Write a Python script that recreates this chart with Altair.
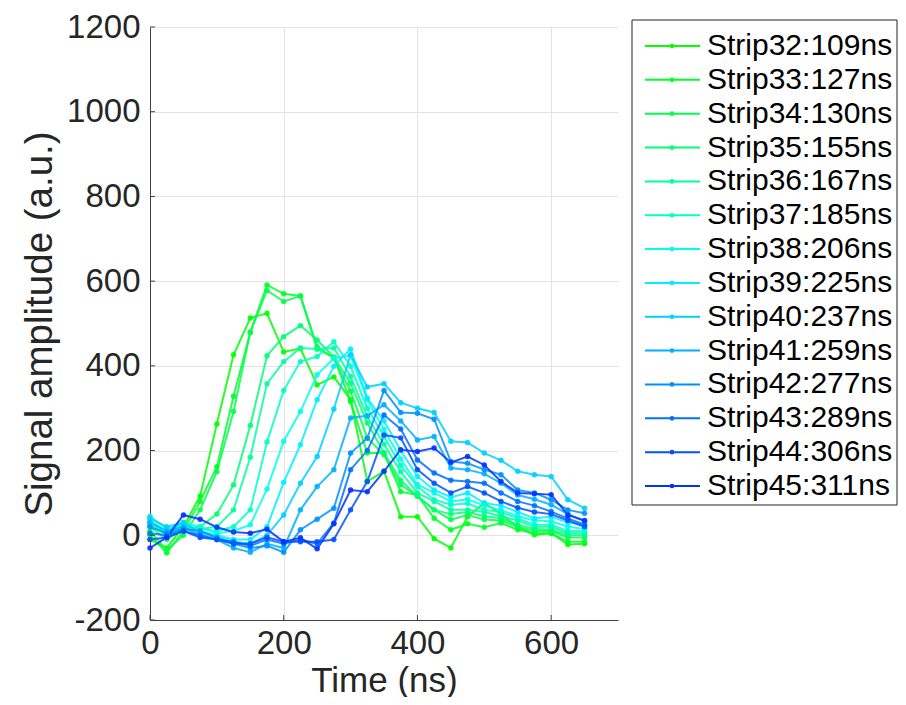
import altair as alt
import pandas as pd

time_ns = [0, 25, 50, 75, 100, 125, 150, 175, 200, 225, 250, 275, 300, 325,
           350, 375, 400, 425, 450, 475, 500, 525, 550, 575, 600, 625, 650]

series_names = ["Strip32:109ns", "Strip33:127ns", "Strip34:130ns", "Strip35:155ns",
                "Strip36:167ns", "Strip37:185ns", "Strip38:206ns", "Strip39:225ns",
                "Strip40:237ns", "Strip41:259ns", "Strip42:277ns", "Strip43:289ns",
                "Strip44:306ns", "Strip45:311ns"]

s32 = [-10, -30, 20, 93, 263, 426, 513, 524, 433, 441, 355, 374, 320, 127, 151, 44, 44, -8, -30, 44, 76, 50, 20, 1, 5, -22, -20]
s33 = [0, -42, 10, 80, 162, 328, 479, 591, 570, 565, 440, 420, 316, 194, 194, 103, 95, 40, 13, 27, 19, 29, 13, 5, 5, -15, -15]
s34 = [10, -35, 0, 60, 150, 292, 480, 578, 552, 565, 445, 418, 340, 230, 190, 120, 92, 60, 37, 48, 37, 35, 20, 10, 10, -5, -5]
s35 = [20, -10, 15, 20, 50, 119, 259, 424, 469, 495, 461, 421, 359, 265, 195, 130, 92, 60, 50, 55, 45, 40, 25, 15, 13, 0, 0]
s36 = [25, 0, 20, 15, 20, 60, 184, 358, 410, 442, 440, 442, 375, 280, 215, 150, 100, 80, 60, 60, 55, 45, 35, 20, 20, 5, 5]
s37 = [30, 5, 25, 15, 10, 20, 60, 220, 342, 410, 422, 457, 399, 300, 233, 165, 115, 84, 72, 75, 60, 55, 40, 25, 25, 10, 10]
s38 = [35, 10, 30, 20, 5, 10, 25, 109, 222, 292, 379, 418, 424, 320, 250, 180, 120, 100, 80, 85, 70, 60, 45, 35, 33, 20, 15]
s39 = [45, 15, 25, 10, 0, -10, -10, 20, 125, 214, 320, 399, 440, 324, 270, 200, 139, 107, 90, 100, 76, 70, 55, 40, 44, 30, 25]
s40 = [40, 20, 30, 5, -5, -15, -20, 0, 48, 123, 186, 298, 426, 350, 358, 313, 300, 290, 222, 219, 194, 177, 151, 143, 139, 84, 64]
s41 = [30, 10, 20, 0, -10, -30, -40, -20, -30, 60, 115, 155, 277, 282, 308, 270, 225, 233, 159, 155, 145, 123, 95, 85, 72, 50, 33]
s42 = [20, 5, 15, 10, -5, -20, -30, -25, -40, 13, 38, 64, 194, 229, 342, 290, 288, 274, 174, 170, 155, 143, 107, 100, 84, 60, 52]
s43 = [5, 0, 10, 0, -10, -15, -25, -10, -20, -10, -20, 29, 155, 200, 284, 251, 178, 147, 130, 127, 123, 100, 80, 70, 56, 40, 25]
s44 = [-10, -5, 10, -5, -10, -20, -20, -5, -15, -15, -15, -10, 60, 127, 237, 230, 155, 123, 100, 115, 100, 80, 65, 55, 50, 35, 20]
s45 = [-30, -5, 48, 38, 19, 8, 5, 14, -15, -6, -32, 27, 107, 103, 151, 202, 198, 206, 172, 186, 166, 127, 100, 98, 96, 48, 35]

series_values = [s32, s33, s34, s35, s36, s37, s38, s39, s40, s41, s42, s43, s44, s45]

colors = ["#00ff00", "#00ff27", "#00ff4e", "#00ff76", "#00ff9d", "#00ffc4", "#00ffeb",
          "#00efff", "#00d0ff", "#00b0ff", "#0091ff", "#0071ff", "#0052ff", "#0032ff"]

x_ticks = [0, 200, 400, 600]
y_ticks = [-200, 0, 200, 400, 600, 800, 1000, 1200]

rows = []
for i, (name, vals) in enumerate(zip(series_names, series_values)):
    for t, v in zip(time_ns, vals):
        rows.append({"series": name, "time": t, "amp": v, "idx": i})
df = pd.DataFrame(rows)

FONT = "Liberation Sans"
LABEL_EXPR = "(datum.value < 0 ? '-' : '') + abs(datum.value)"
x_scale = alt.Scale(domain=[0, 700], nice=False, zero=False)
y_scale = alt.Scale(domain=[-200, 1200], nice=False, zero=False)
color_scale = alt.Scale(domain=series_names, range=colors)

x_enc = alt.X("time:Q", scale=x_scale,
              axis=alt.Axis(values=x_ticks, title="Time (ns)", ticks=False, labelFlush=False,
                            labelExpr=LABEL_EXPR, labelPadding=7, titlePadding=3,
                            titleFontSize=35, grid=True))
y_enc = alt.Y("amp:Q", scale=y_scale,
              axis=alt.Axis(values=y_ticks, title="Signal amplitude (a.u.)", ticks=False,
                            labelExpr=LABEL_EXPR, labelPadding=10, titlePadding=7,
                            titleFontSize=38.5, grid=True))
c_enc = alt.Color("series:N", scale=color_scale, legend=None)

base = alt.Chart(df).encode(x=x_enc, y=y_enc, color=c_enc, order=alt.Order("idx:Q"))
lines = base.mark_line(strokeWidth=2, opacity=0.85)
points = base.mark_circle(size=30, opacity=0.9)

xt = alt.Chart(pd.DataFrame({"time": x_ticks})).mark_rule(color="#404040", strokeWidth=1).encode(
    x=alt.X("time:Q", scale=x_scale), y=alt.value(593), y2=alt.value(588))
yt = alt.Chart(pd.DataFrame({"amp": y_ticks})).mark_rule(color="#404040", strokeWidth=1).encode(
    y=alt.Y("amp:Q", scale=y_scale), x=alt.value(0), x2=alt.value(5))

main = alt.layer(lines, points, xt, yt)

leg_df = pd.DataFrame({"series": series_names})
leg_y = alt.Y("series:N", scale=alt.Scale(type="point", domain=series_names, range=[19, 459], padding=0), axis=None)
leg_c = alt.Color("series:N", scale=color_scale, legend=None)
leg_box = alt.Chart(pd.DataFrame({"k": [0]})).mark_rect(fill="white", stroke="#262626", strokeWidth=1).encode(
    x=alt.value(482), x2=alt.value(747), y=alt.value(-7), y2=alt.value(478))
leg_line = alt.Chart(leg_df).mark_rule(strokeWidth=2).encode(
    y=leg_y, x=alt.value(495), x2=alt.value(550), color=leg_c)
leg_dot = alt.Chart(leg_df).mark_circle(size=22, opacity=1).encode(
    y=leg_y, x=alt.value(522), color=leg_c)
leg_text = alt.Chart(leg_df).mark_text(align="left", baseline="middle", fontSize=30, font=FONT, color="#000000").encode(
    y=leg_y, x=alt.value(557), text="series:N")
legend = alt.layer(leg_box, leg_line, leg_dot, leg_text)

chart = alt.layer(main, legend).resolve_scale(y="independent").properties(
    width=468, height=593,
    autosize=alt.AutoSizeParams(type="none"),
    padding={"left": 142, "top": 19, "right": 280, "bottom": 77},
).configure_view(stroke=None).configure_axis(
    labelFont=FONT, titleFont=FONT, labelFontSize=33,
    titleFontWeight="normal", labelColor="#262626", titleColor="#262626",
    domainColor="#404040", domainWidth=1, gridColor="#e3e3e3", gridWidth=1,
)

chart.save("out.html", embed_options={"renderer": "svg", "actions": False})
